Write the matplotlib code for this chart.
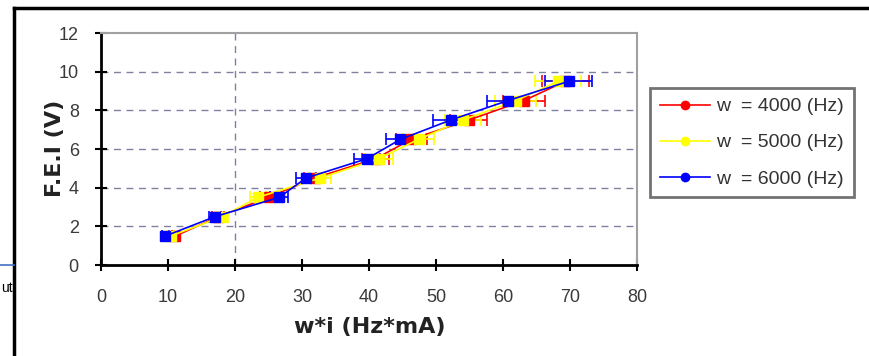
import matplotlib
matplotlib.use("Agg")
import matplotlib.pyplot as plt
from matplotlib.lines import Line2D
import numpy as np

plt.rcParams['font.family'] = ['Liberation Sans', 'DejaVu Sans']

# Data
fei = [1.5, 2.5, 3.5, 4.5, 5.5, 6.5, 7.5, 8.5, 9.5]
wi_4000 = [11.1, 17.5, 25.0, 31.9, 41.0, 46.3, 54.9, 63.1, 69.3]
wi_5000 = [10.4, 18.1, 23.4, 32.7, 41.5, 47.4, 54.0, 61.9, 68.2]
wi_6000 = [9.6, 17.0, 26.6, 30.6, 39.7, 44.7, 52.2, 60.7, 69.8]
labels = ['w  = 4000 (Hz)', 'w  = 5000 (Hz)', 'w  = 6000 (Hz)']
colors = ['#ff0000', '#ffff00', '#0000ff']
x_ticks = [0, 10, 20, 30, 40, 50, 60, 70, 80]
y_ticks = [0, 2, 4, 6, 8, 10, 12]
x_rel_err = 0.05

W, H = 869, 356
fig = plt.figure(figsize=(W / 100, H / 100), dpi=100)
ax = fig.add_axes([101 / W, 1 - 265 / H, (637 - 101) / W, (265 - 33) / H])

grid_c = '#8080a0'
for yv in y_ticks[1:-1]:
    ax.axhline(yv, color=grid_c, lw=1, ls=(0, (5, 4)), zorder=0)
ax.axvline(20, color=grid_c, lw=1, ls=(0, (5, 4)), zorder=0)

for xs, lab, c in zip([wi_4000, wi_5000, wi_6000], labels, colors):
    xs = np.array(xs)
    ys = np.array(fei)
    ax.errorbar(xs, ys, xerr=xs * x_rel_err, fmt='none',
                ecolor=c, elinewidth=1.2, capsize=4.5, capthick=1.2, zorder=2)
    ax.plot(xs, ys, color=c, lw=1.2, marker='s', markersize=7,
            markerfacecolor=c, markeredgecolor=c, zorder=3)

ax.set_xlim(0, 80)
ax.set_ylim(0, 12)
ax.set_xticks(x_ticks)
ax.set_yticks(y_ticks)
ax.tick_params(direction='inout', length=8, width=1.5, labelsize=13,
               colors='black', labelcolor='#3a3a3a')
ax.tick_params(axis='x', pad=13)
ax.tick_params(axis='y', pad=12)

for s in ['left', 'bottom']:
    ax.spines[s].set_color('black')
    ax.spines[s].set_linewidth(2)
for s in ['top', 'right']:
    ax.spines[s].set_color('#a0a0a0')
    ax.spines[s].set_linewidth(1.5)

ax.set_xlabel('w*i (Hz*mA)', fontsize=16, fontweight='bold',
              family='DejaVu Sans', color='#222222', va='center')
ax.set_ylabel('F.E.I (V)', fontsize=16, fontweight='bold',
              family='DejaVu Sans', color='#222222', va='center')
ax.xaxis.set_label_coords((370 - 101) / 536, (265 - 327) / 232)
ax.yaxis.set_label_coords((55 - 101) / 536, 0.5 + 1 / 232)

handles = [Line2D([], [], color=c, lw=1.2, marker='o', markersize=6,
                  markerfacecolor=c, markeredgecolor=c) for c in colors]
leg = fig.legend(handles=handles, labels=labels, loc='upper left',
                 bbox_to_anchor=(650 / W, 1 - 88 / H), fontsize=14,
                 frameon=True, fancybox=False, handlelength=2.6,
                 labelspacing=0.95, borderpad=0.5, handletextpad=0.3,
                 borderaxespad=0)
leg.get_frame().set_edgecolor('#505050')
leg.get_frame().set_linewidth(2)
for t in leg.get_texts():
    t.set_color('#333333')

# page artifacts around the chart
fig.add_artist(Line2D([14 / W, 14 / W], [0, 1 - 8 / H], color='black', lw=2.5,
                      transform=fig.transFigure))
fig.add_artist(Line2D([14 / W, 1], [1 - 8 / H, 1 - 8 / H], color='black', lw=2.5,
                      transform=fig.transFigure))
fig.add_artist(Line2D([0, 14 / W], [1 - 265 / H, 1 - 265 / H], color='#4472c4',
                      lw=1.2, transform=fig.transFigure))
fig.text(1 / W, 1 - 288 / H, 'ut', fontsize=10, ha='left', va='center')

fig.savefig('out.png', dpi=100)
